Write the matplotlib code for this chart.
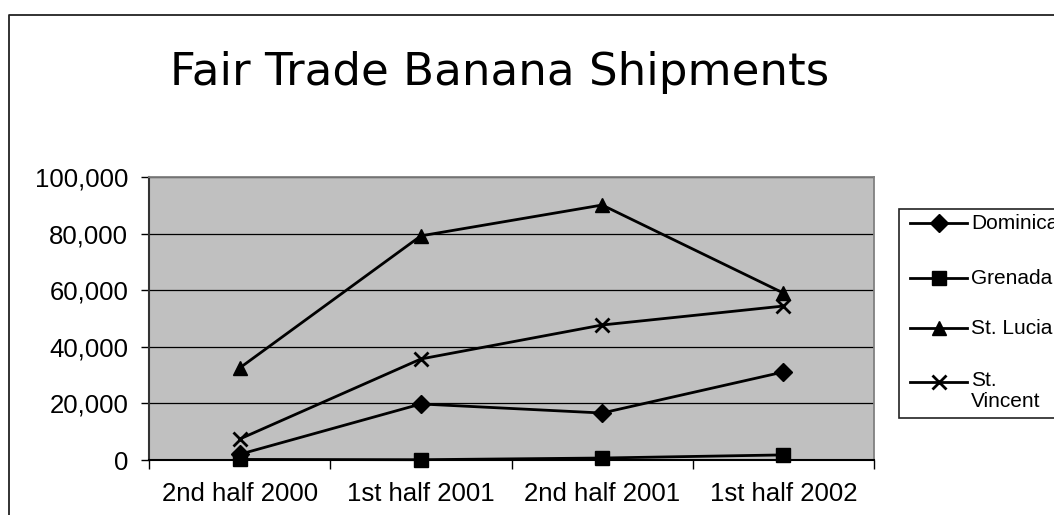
import matplotlib
matplotlib.use("Agg")
import matplotlib.pyplot as plt
from matplotlib.lines import Line2D
from matplotlib.patches import Rectangle
from matplotlib.ticker import FuncFormatter, FixedLocator

categories = ["2nd half 2000", "1st half 2001", "2nd half 2001", "1st half 2002"]
series_names = ["Dominica", "Grenada", "St. Lucia", "St.\nVincent"]
dominica = [2000, 19800, 16600, 31100]
grenada = [200, 100, 700, 1800]
st_lucia = [32500, 79200, 90100, 59000]
st_vincent = [7400, 35700, 47700, 54400]
yticks = [0, 20000, 40000, 60000, 80000, 100000]
title = "Fair Trade Banana Shipments"

W, H = 1054, 515
fig = plt.figure(figsize=(W / 100, H / 100), dpi=100)
fig.patch.set_facecolor("white")

# outer chart frame (left and top visible)
fig.add_artist(Line2D([9 / W, 9 / W, 1.0], [0.0, 1 - 15 / H, 1 - 15 / H],
                      transform=fig.transFigure, color="#222222", lw=1.3))

ax = fig.add_axes([149 / W, 1 - 460 / H, (874 - 149) / W, (460 - 177) / H])
ax.set_facecolor("#C0C0C0")

x = list(range(len(categories)))
styles = [("D", 9, 1), ("s", 9.5, 1), ("^", 10.5, 1), ("x", 10, 2.0)]
data = [dominica, grenada, st_lucia, st_vincent]
for vals, (m, ms, mew) in zip(data, styles):
    ax.plot(x, vals, color="black", lw=2.0, marker=m, markersize=ms,
            markeredgewidth=mew, markerfacecolor="black", markeredgecolor="black",
            clip_on=False, zorder=3)

ax.set_xlim(-0.5, len(categories) - 0.5)
ax.set_ylim(0, 100000)
ax.set_yticks(yticks)
ax.yaxis.set_major_formatter(FuncFormatter(lambda v, p: f"{int(v):,}"))
ax.grid(axis="y", color="black", lw=0.9)
ax.set_axisbelow(True)

ax.set_xticks(x)
ax.set_xticklabels(categories)
ax.xaxis.set_minor_locator(FixedLocator([i - 0.5 for i in range(len(categories) + 1)]))
ax.tick_params(axis="x", which="major", length=0, pad=16)
ax.tick_params(axis="x", which="minor", length=6.5, width=1, color="black")
ax.tick_params(axis="y", which="major", length=6, width=1, pad=9, color="black")
for lab in ax.get_xticklabels() + ax.get_yticklabels():
    lab.set_fontfamily("Liberation Sans")
    lab.set_fontsize(18.5)

for side in ("top", "right"):
    ax.spines[side].set_color("#808080")
    ax.spines[side].set_linewidth(1.3)
ax.spines["left"].set_color("#333333")
ax.spines["left"].set_linewidth(1.5)
ax.spines["bottom"].set_color("black")
ax.spines["bottom"].set_linewidth(1.5)

fig.text(500 / W, 1 - 73 / H, title, ha="center", va="center",
         fontsize=32.5, family="DejaVu Sans")

# legend (manual, to keep marker on first line of a wrapped label)
fig.add_artist(Rectangle((899 / W, 1 - 418 / H), 200 / W, (418 - 209) / H,
                         transform=fig.transFigure, facecolor="white",
                         edgecolor="#222222", lw=1.2))
ys = [223, 278, 328, 382]
for name, (m, ms, mew), yy in zip(series_names, styles, ys):
    fy = 1 - yy / H
    fig.add_artist(Line2D([910 / W, 967 / W], [fy, fy], transform=fig.transFigure,
                          color="black", lw=2.0))
    fig.add_artist(Line2D([938.5 / W], [fy], transform=fig.transFigure,
                          color="black", marker=m, markersize=ms, markeredgewidth=mew,
                          markerfacecolor="black", markeredgecolor="black"))
    if "\n" in name:
        fig.text(971 / W, fy + 11 / H, name, ha="left", va="top",
                 fontsize=15, family="Liberation Sans", linespacing=1.15)
    else:
        fig.text(971 / W, fy, name, ha="left", va="center",
                 fontsize=15, family="Liberation Sans")

fig.savefig("out.png", dpi=100)
